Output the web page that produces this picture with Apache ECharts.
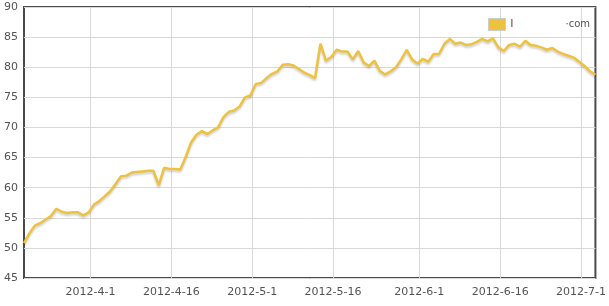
<!DOCTYPE html>
<html><head><meta charset="utf-8">
<script src="https://cdn.jsdelivr.net/npm/echarts@6/dist/echarts.min.js"></script>
<style>html,body{margin:0;padding:0;background:#fff}#c{width:609px;height:306px}</style>
</head><body><div id="c"></div>
<script>
// daily readings, first day 2012-03-20 (UTC+8)
const firstDay = [2012, 3, 20];
const values = [
  50.8, 52.4, 53.7, 54.1, 54.7, 55.3, 56.5, 56.0, 55.8, 55.9,
  55.9, 55.4, 55.9, 57.2, 57.8, 58.6, 59.4, 60.6, 61.9, 62.0,
  62.5, 62.6, 62.7, 62.8, 62.8, 60.4, 63.3, 63.1, 63.1, 63.0,
  65.1, 67.5, 68.8, 69.4, 68.9, 69.5, 70.0, 71.7, 72.6, 72.8,
  73.5, 75.0, 75.3, 77.2, 77.4, 78.2, 78.9, 79.3, 80.4, 80.5,
  80.3, 79.7, 79.1, 78.7, 78.2, 83.9, 81.1, 81.7, 82.9, 82.6,
  82.6, 81.3, 82.7, 80.8, 80.2, 81.1, 79.4, 78.8, 79.3, 80.0,
  81.3, 82.9, 81.3, 80.6, 81.4, 80.9, 82.2, 82.2, 83.9, 84.7,
  83.9, 84.1, 83.7, 83.8, 84.2, 84.7, 84.3, 84.8, 83.3, 82.7,
  83.7, 83.9, 83.4, 84.4, 83.7, 83.55, 83.3, 82.9, 83.2, 82.6,
  82.2, 81.9, 81.6, 80.9, 80.2, 79.3, 78.75
];
const tickDates = ['2012-04-01', '2012-04-16', '2012-05-01', '2012-05-16', '2012-06-01', '2012-06-16', '2012-07-01'];
const yMin = 45, yMax = 90, yStep = 5;
const seriesName = 'l·com';
const legendParts = ['l', '·com'];

const TZ = 8 * 3600 * 1000;
const DAY = 24 * 3600 * 1000;
const t0 = Date.UTC(firstDay[0], firstDay[1] - 1, firstDay[2]) - TZ;
const points = values.map((v, i) => [t0 + i * DAY, v]);
const ticks = tickDates.map(s => Date.parse(s + 'T00:00:00Z'));

const FONT = 'DejaVu Sans, Verdana, sans-serif';
const TXT = '#545454';
const GRID = '#d9d9d9';

const chart = echarts.init(document.getElementById('c'), null, {renderer: 'canvas'});
chart.setOption({
  animation: false,
  backgroundColor: '#fff',
  grid: {left: 24, right: 13, top: 7, bottom: 28, show: true, borderColor: '#4a4a4a', borderWidth: 2, backgroundColor: 'transparent'},
  legend: {
    left: 483, top: 13,
    icon: 'rect', itemWidth: 17, itemHeight: 12, itemGap: 4,
    itemStyle: {borderColor: '#cccccc', borderWidth: 1},
    formatter: () => '{a|' + legendParts[0] + '}{b|' + legendParts[1] + '}',
    textStyle: {
      fontFamily: FONT, fontSize: 10, color: TXT,
      rich: {
        a: {fontFamily: FONT, fontSize: 10, color: '#5a2323', width: 55},
        b: {fontFamily: FONT, fontSize: 10, color: TXT}
      }
    }
  },
  xAxis: {
    type: 'value',
    min: 'dataMin', max: 'dataMax',
    axisLine: {show: false},
    axisTick: {show: false, customValues: ticks},
    splitLine: {show: true, lineStyle: {color: GRID, width: 1}},
    axisLabel: {
      customValues: ticks,
      margin: 9,
      fontFamily: FONT, fontSize: 11, color: TXT,
      formatter: v => {
        const d = new Date(v);
        return d.getUTCFullYear() + '-' + (d.getUTCMonth() + 1) + '-' + d.getUTCDate();
      }
    }
  },
  yAxis: {
    type: 'value', min: yMin, max: yMax, interval: yStep,
    axisLine: {show: false}, axisTick: {show: false},
    splitLine: {show: true, lineStyle: {color: GRID, width: 1}},
    axisLabel: {margin: 6, fontFamily: FONT, fontSize: 11, color: TXT}
  },
  series: [{
    name: seriesName,
    type: 'line',
    data: points,
    showSymbol: false,
    symbol: 'none',
    color: '#edc240',
    lineStyle: {color: '#edc240', width: 2.5, shadowColor: 'rgba(0,0,0,0.18)', shadowBlur: 2, shadowOffsetX: 0, shadowOffsetY: 2}
  }]
});
</script>
</body></html>
